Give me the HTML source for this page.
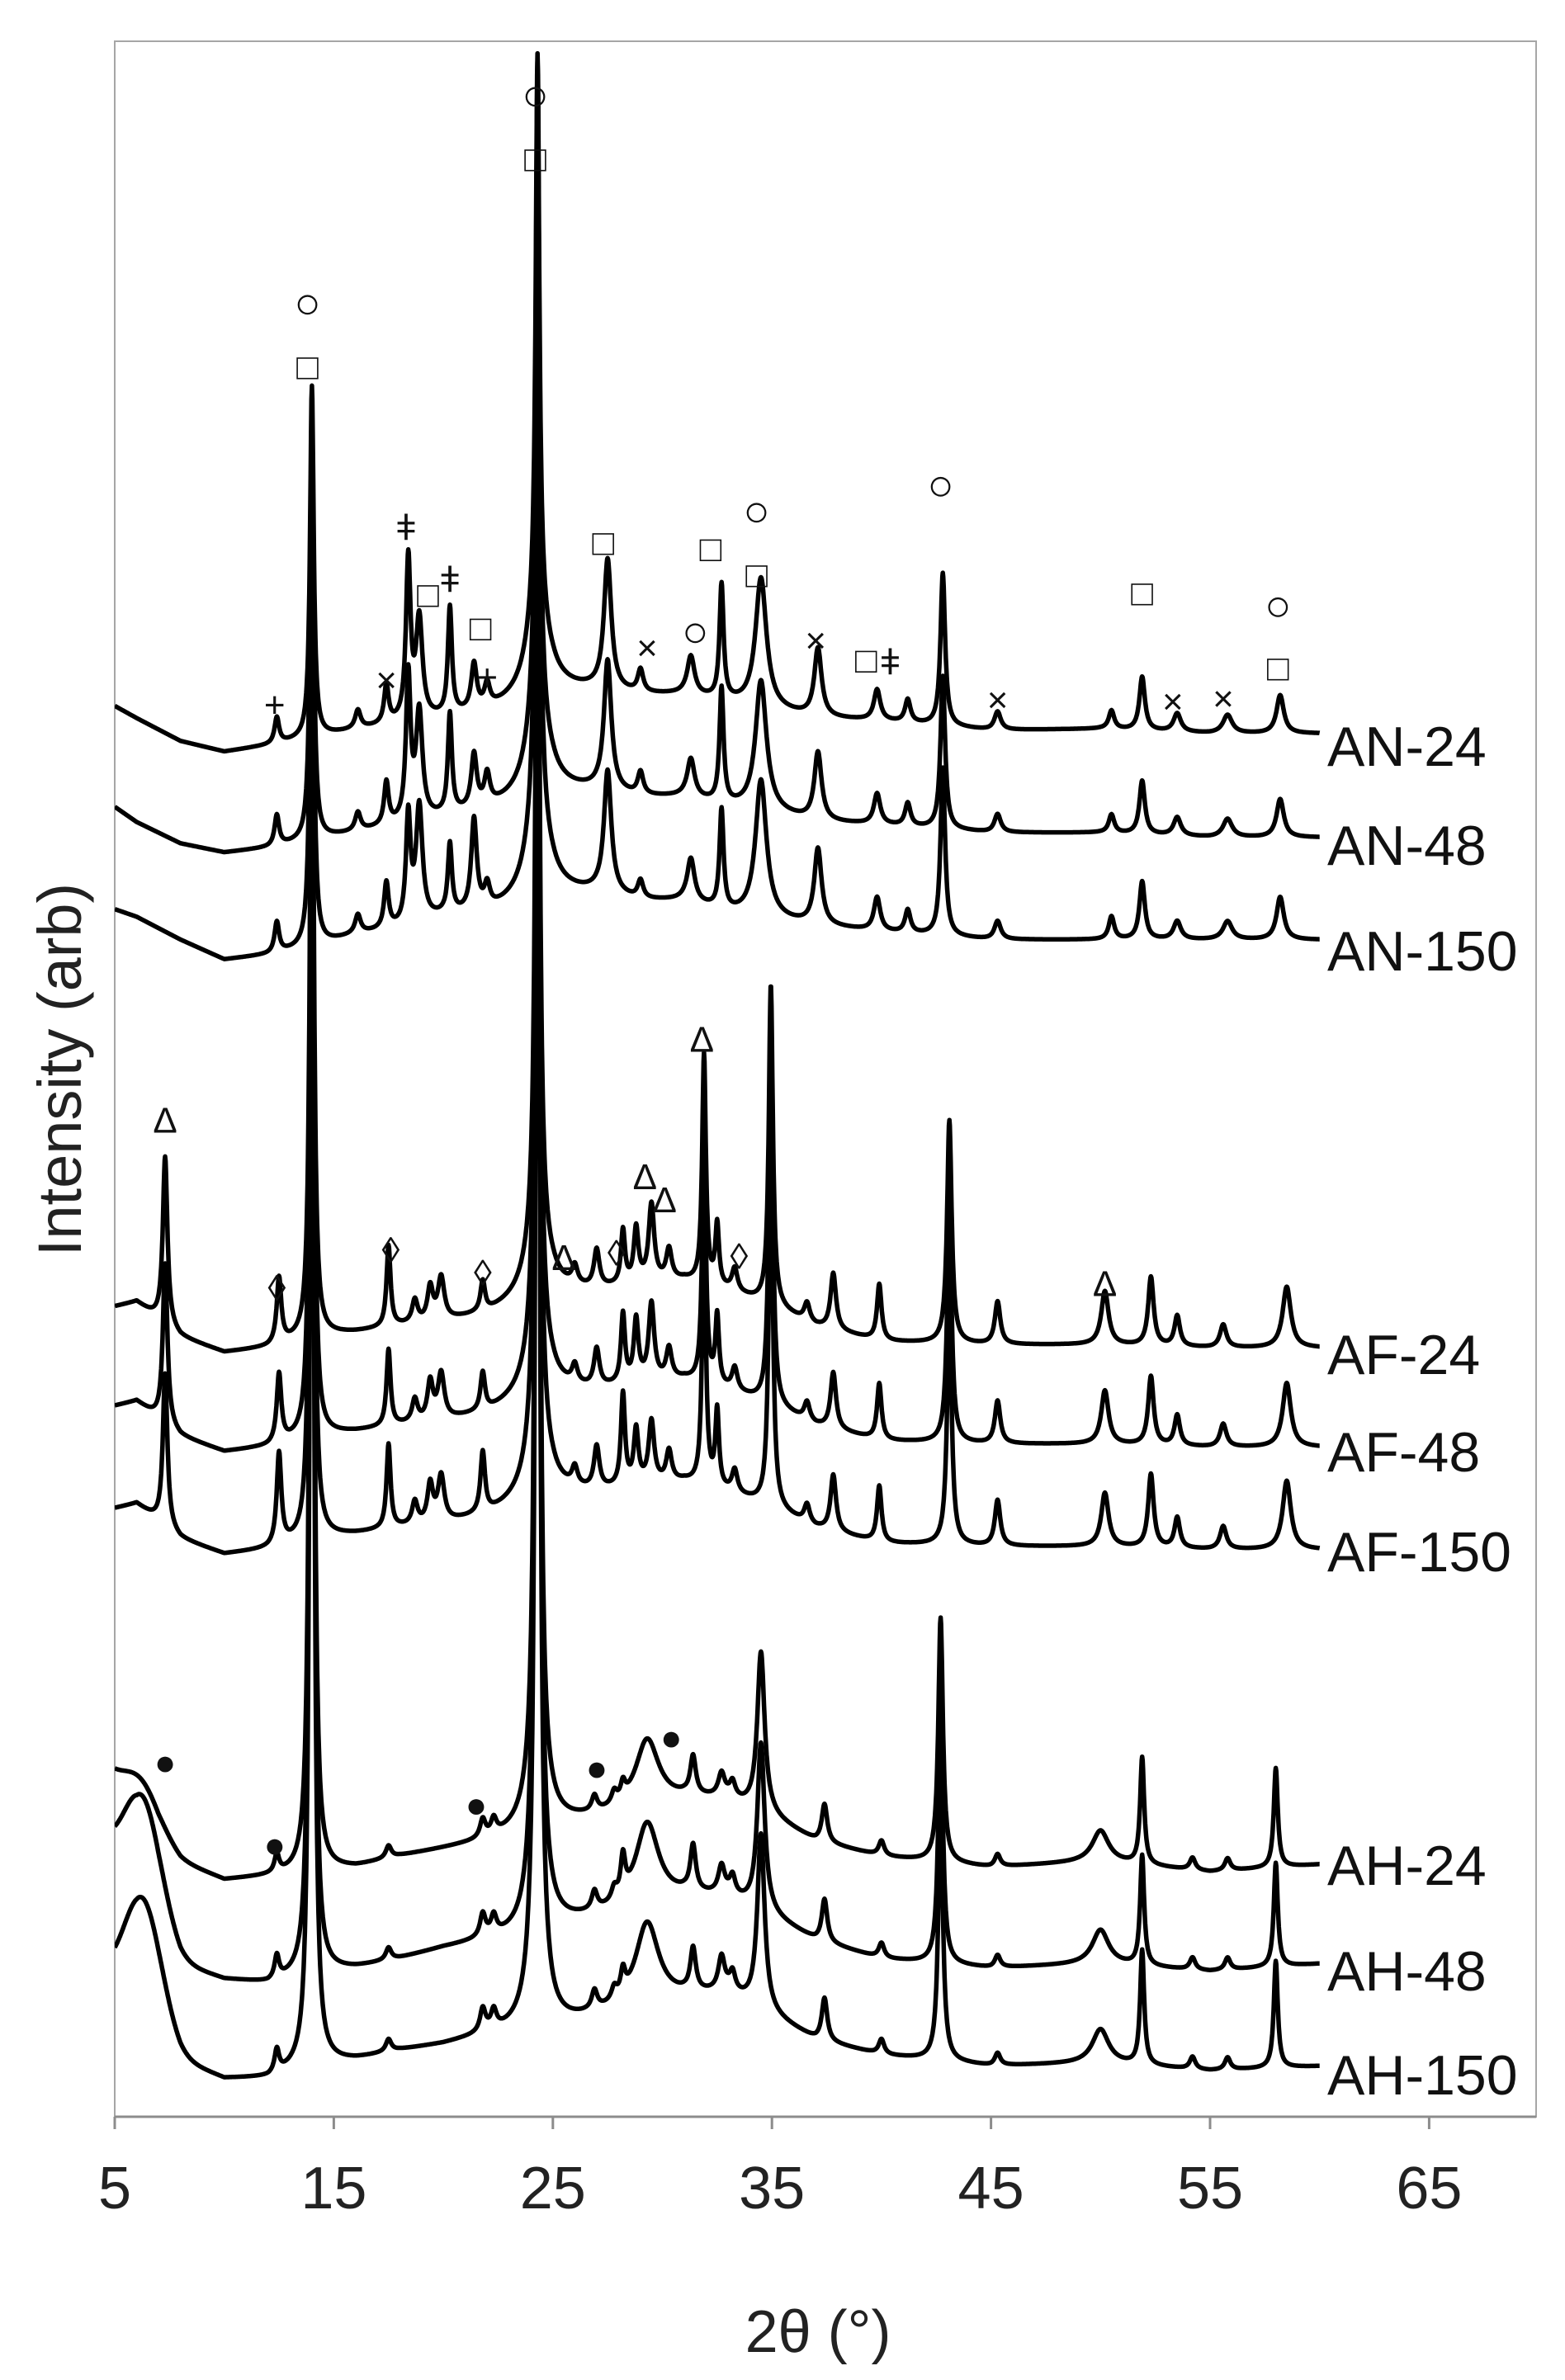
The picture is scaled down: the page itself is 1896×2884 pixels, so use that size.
<!DOCTYPE html>
<html><head><meta charset="utf-8"><title>XRD patterns</title>
<style>
html,body{margin:0;padding:0;background:#fff;}
svg{display:block;font-family:"Liberation Sans","DejaVu Sans",sans-serif;}
</style></head>
<body>
<svg id="chart" width="1896" height="2884" viewBox="0 0 1896 2884" xmlns="http://www.w3.org/2000/svg">
<defs><clipPath id="plotclip"><rect x="139" y="50" width="1722" height="2515"/></clipPath></defs>
<rect x="139" y="50" width="1722" height="2515" fill="none" stroke="#a6a6a6" stroke-width="2"/>
<g id="traces" clip-path="url(#plotclip)"></g>
<g id="axis"></g>
<g id="marks"></g>
<g id="labels"></g>
<text x="991" y="2850" font-size="72" text-anchor="middle" fill="#222">2θ (°)</text>
<text transform="translate(98,1296) rotate(-90)" font-size="74" text-anchor="middle" fill="#222">Intensity (arb)</text>
</svg>
<script>
// ---- data ----
const xTicks = [5,15,25,35,45,55,65];
const gridA = [5,6,8,10,12,14,16,18,20,22,23.5,25,27,29,31,33,35,37,40,45,50,55,60];
const gridH = [5,6,7,8,10,12,14,16,18,20,22,23.5,25,27,29,31,33,35,37,40,45,50,55,60];
const baseAN24 = [923,915,900,893,897,902,907,911,915,919,925,933,933,930,930,925,920,915,913,907,908,905,905];
const baseAN48 = [857,847,833,827,830,835,840,845,850,855,860,867,867,863,863,857,853,847,845,840,840,837,837];
const baseAN150 = [790,785,770,757,760,765,773,777,785,787,793,800,800,795,795,787,783,779,775,770,770,770,770];
const baseAF24 = [530,533,510,500,503,510,513,517,520,525,533,540,540,545,547,540,530,517,507,505,505,503,503];
const baseAF48 = [465,468,445,435,438,445,448,452,455,460,468,475,475,480,482,475,465,452,442,440,440,438,438];
const baseAF150 = [398,401,378,368,371,378,381,385,388,393,401,408,408,413,415,408,398,385,375,373,373,371,371];
const baseAH24 = [220,200,180,167,155,157,160,163,170,175,180,185,190,195,200,207,207,195,180,170,163,167,160,165];
const baseAH48 = [165,135,115,100,90,87,93,97,103,110,115,117,123,130,135,143,143,130,115,103,97,100,95,100];
const baseAH150 = [85,65,50,37,25,25,33,37,43,47,53,55,57,65,70,77,80,65,50,40,33,35,30,33];

const anPos = [12.4,14.0,16.1,17.4,18.4,18.9,20.3,21.4,22.0,24.3,24.3,27.5,29.0,31.3,32.7,34.5,37.1,39.8,41.2,42.8,45.3,50.5,51.9,53.5,55.8,58.2];
const anWid = [0.25,0.2,0.3,0.25,0.25,0.35,0.22,0.3,0.3,0.2,1.1,0.4,0.3,0.4,0.22,0.6,0.4,0.35,0.3,0.25,0.35,0.3,0.3,0.4,0.5,0.4];
const an24H = [17,230,12,25,105,65,70,30,15,360,60,85,15,25,75,85,45,20,15,100,12,12,35,12,12,25];
const an48H = [20,265,12,28,95,70,65,35,20,420,60,85,15,25,75,85,45,20,15,100,12,12,35,12,12,25];
const an150H = [20,300,12,30,70,75,45,60,15,480,60,80,12,28,65,90,50,22,15,110,12,15,38,12,12,28];

const afPos = [7.3,12.5,14.0,17.5,18.7,19.4,19.9,21.8,24.3,24.3,26.0,27.0,28.2,28.8,29.5,30.3,31.9,32.5,33.3,34.95,36.6,37.8,39.9,43.1,45.3,50.2,52.3,53.5,55.6,58.5];
const afWid = [0.25,0.25,0.2,0.22,0.3,0.3,0.35,0.25,0.2,1.0,0.3,0.3,0.22,0.25,0.3,0.3,0.2,0.2,0.3,0.22,0.3,0.3,0.25,0.25,0.3,0.4,0.3,0.3,0.35,0.45];
const af24H = [110,43,500,53,15,22,28,20,600,50,12,25,35,35,50,20,150,40,15,210,12,37,37,146,28,35,45,20,15,40];
const af48H = [105,45,550,50,15,25,30,25,650,50,12,25,45,40,50,20,160,45,15,230,12,37,37,150,28,35,45,20,15,42];
const af150H = [100,60,600,55,15,25,30,40,700,50,12,28,60,35,40,20,170,50,15,240,12,37,37,155,30,35,48,20,15,45];

const ahPos = [6.3,12.4,14.0,17.5,21.8,22.3,24.3,24.3,26.9,27.8,28.2,29.3,31.4,32.7,33.2,34.5,37.4,40.0,42.7,45.3,50.0,51.9,54.2,55.8,58.0];
const ahWid = [2.0,0.25,0.2,0.3,0.3,0.3,0.2,1.0,0.3,0.3,0.25,1.3,0.3,0.35,0.3,0.4,0.3,0.3,0.25,0.3,0.9,0.22,0.3,0.3,0.22];
const ah24H = [25,12,900,8,12,10,1000,40,10,8,10,45,25,15,10,105,25,10,160,8,20,70,8,8,65];
const ah48H = [80,15,950,8,15,12,1050,40,12,8,25,55,30,18,12,110,28,10,165,8,22,72,8,8,68];
const ah150H = [82,15,1000,8,15,12,1100,40,12,8,15,55,28,22,12,115,28,10,170,8,22,75,8,8,70];

const traceNames = ["AN-24","AN-48","AN-150","AF-24","AF-48","AF-150","AH-24","AH-48","AH-150"];

// ---- scales ----
const xS = t => 139 + (t - 5) * 26.54;
const yS = v => 2565 - v * 1.852;
const NS = "http://www.w3.org/2000/svg";

function interp(grid, vals, t){
  if (t <= grid[0]) return vals[0];
  for (let i = 1; i < grid.length; i++){
    if (t <= grid[i]){ const f = (t - grid[i-1])/(grid[i]-grid[i-1]); return vals[i-1] + f*(vals[i]-vals[i-1]); }
  }
  return vals[vals.length-1];
}
function intensity(t, grid, base, pos, wid, hts, gaussFirst){
  let v = interp(grid, base, t);
  for (let i = 0; i < pos.length; i++){
    const d = (t - pos[i]) / wid[i];
    if (gaussFirst && i === 0) v += hts[i] * Math.exp(-2.77 * d * d);
    else v += hts[i] / (1 + 4 * d * d);
  }
  return v;
}
const series = [
  [gridA, baseAN24, anPos, anWid, an24H, false],
  [gridA, baseAN48, anPos, anWid, an48H, false],
  [gridA, baseAN150, anPos, anWid, an150H, false],
  [gridA, baseAF24, afPos, afWid, af24H, false],
  [gridA, baseAF48, afPos, afWid, af48H, false],
  [gridA, baseAF150, afPos, afWid, af150H, false],
  [gridH, baseAH24, ahPos, ahWid, ah24H, true],
  [gridH, baseAH48, ahPos, ahWid, ah48H, true],
  [gridH, baseAH150, ahPos, ahWid, ah150H, true]
];
const tg = document.getElementById("traces");
series.forEach((s, k) => {
  let d = "";
  for (let t = 5; t <= 60.0001; t += 0.02){
    const v = intensity(t, s[0], s[1], s[2], s[3], s[4], s[5]);
    d += (d ? "L" : "M") + xS(t).toFixed(1) + "," + yS(v).toFixed(1);
  }
  const p = document.createElementNS(NS, "path");
  p.setAttribute("d", d);
  p.setAttribute("fill", "none");
  p.setAttribute("stroke", "#000");
  p.setAttribute("stroke-width", "5.5");
  p.setAttribute("stroke-linejoin", "round");
  
  
  tg.appendChild(p);
});

// axis
const ax = document.getElementById("axis");
const line = document.createElementNS(NS, "line");
line.setAttribute("x1", 139); line.setAttribute("x2", 1861);
line.setAttribute("y1", 2565); line.setAttribute("y2", 2565);
line.setAttribute("stroke", "#8c8c8c"); line.setAttribute("stroke-width", "3");


ax.appendChild(line);
xTicks.forEach(t => {
  const tk = document.createElementNS(NS, "line");
  tk.setAttribute("x1", xS(t)); tk.setAttribute("x2", xS(t));
  tk.setAttribute("y1", 2565); tk.setAttribute("y2", 2580);
  tk.setAttribute("stroke", "#8c8c8c"); tk.setAttribute("stroke-width", "3");
  
  
  ax.appendChild(tk);
  const tx = document.createElementNS(NS, "text");
  tx.setAttribute("x", xS(t)); tx.setAttribute("y", 2676);
  tx.setAttribute("font-size", "72"); tx.setAttribute("text-anchor", "middle");
  tx.setAttribute("fill", "#222");
  tx.textContent = t;
  
  
  ax.appendChild(tx);
});

// trace labels
const labelY = [904,1024,1152,1641,1759,1880,2260,2388,2514];
const lg = document.getElementById("labels");
traceNames.forEach((n, i) => {
  const tx = document.createElementNS(NS, "text");
  tx.setAttribute("x", 1608); tx.setAttribute("y", labelY[i] + 24);
  tx.setAttribute("font-size", "68"); tx.setAttribute("fill", "#111");
  tx.textContent = n;
  
  
  lg.appendChild(tx);
});

// phase markers: [2theta, intensity-level, glyph]
const markTheta = [24.2,24.2,13.8,13.8,18.3,19.3,20.3,21.7,22.0,17.4,12.3,27.3,32.2,34.3,34.3,29.3,31.5,37.0,39.3,40.4,42.7,45.3,51.9,53.3,55.6,58.1,58.1,
  7.3,12.4,17.6,21.8,25.5,27.9,29.2,30.1,31.8,33.5,50.2,
  7.3,12.3,21.5,27.0,30.4];
const markLevel = [1321,1281,1185,1145,1040,996,1006,974,942,940,924,1030,1026,1049,1009,961,970,966,953,952,1066,927,997,926,928,987,948,
  652,542,567,552,562,565,615,600,705,563,545,
  232,178,204,228,248];
const markGlyph = ["○","□","○","□","ǂ","□","ǂ","□","+","×","+","□","□","○","□","×","○","×","□","ǂ","○","×","□","×","×","○","□",
  "Δ","◊","◊","◊","Δ","◊","Δ","Δ","Δ","◊","Δ",
  "●","●","●","●","●"];
const mg = document.getElementById("marks");
markTheta.forEach((t, i) => {
  const g = markGlyph[i];
  const tx = document.createElementNS(NS, "text");
  tx.setAttribute("x", xS(t)); tx.setAttribute("y", yS(markLevel[i]) + 15);
  tx.setAttribute("font-size", g === "○" ? "54" : (g === "●" ? "44" : "44"));
  tx.setAttribute("text-anchor", "middle"); tx.setAttribute("fill", "#111");
  tx.textContent = g;
  
  
  mg.appendChild(tx);
});
</script>
</body></html>
